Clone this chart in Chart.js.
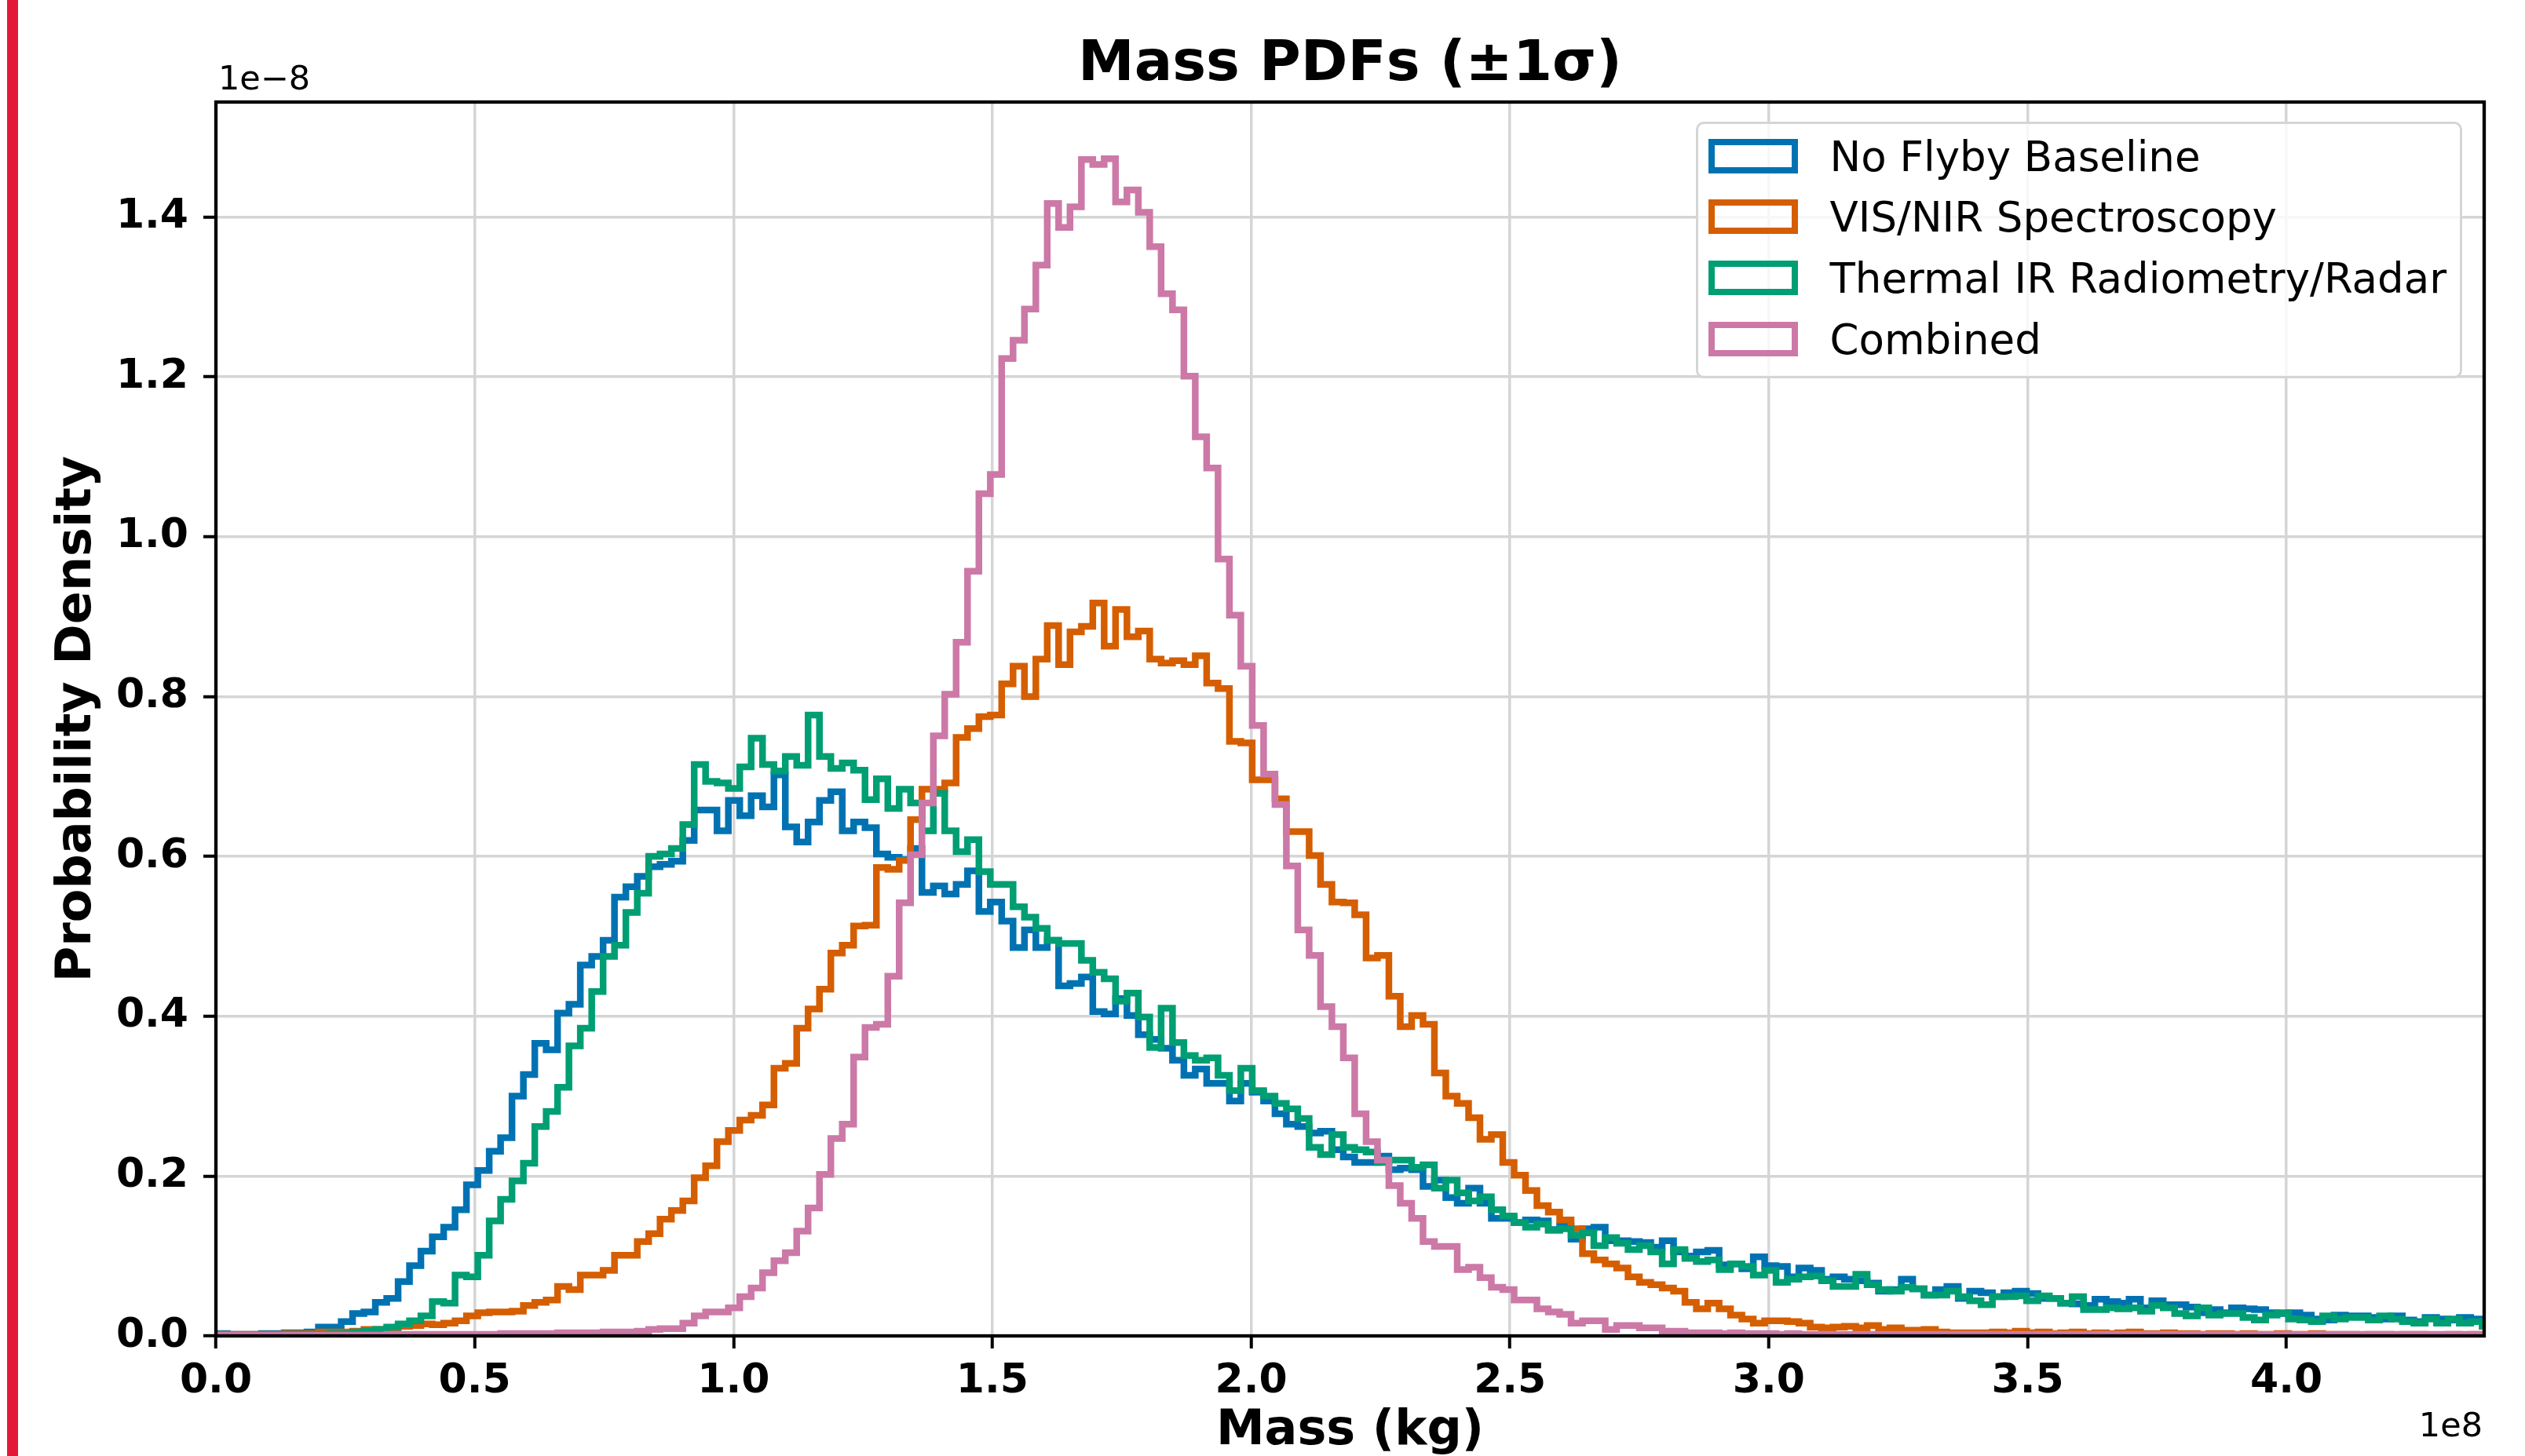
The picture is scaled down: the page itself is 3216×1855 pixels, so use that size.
<!DOCTYPE html>
<html lang="en">
<head>
    <meta charset="UTF-8">
    <title>Mass PDFs</title>
    <script src="https://cdn.jsdelivr.net/npm/chart.js"></script>
    <style>
        html, body { margin: 0; padding: 0; background: #fff; }
        body { width: 3216px; height: 1855px; position: relative; overflow: hidden; font-family: "DejaVu Sans", sans-serif; color: #000; }
        #chart { position: absolute; left: 0; top: 0; }
        .edge-bar { position: absolute; left: 9px; top: 0; width: 14px; height: 1855px; background: #e31837; }
        .title { position: absolute; left: 275px; width: 2889px; top: 77px; transform: translateY(-50%); text-align: center; font-size: 72px; font-weight: bold; line-height: 1; white-space: nowrap; }
        .offset { position: absolute; font-size: 43px; line-height: 1; transform: translateY(-50%); white-space: nowrap; }
        #legend { position: absolute; left: 2160px; top: 155px; width: 976px; height: 327px; box-sizing: border-box; border: 3.5px solid #d5d5d5; border-radius: 10px; background: rgba(255, 255, 255, 0.8); }
        .swatch { position: absolute; left: 12.5px; width: 114px; height: 44px; box-sizing: border-box; border: 8.5px solid; transform: translateY(-50%); }
        .legend-label { position: absolute; left: 167.5px; font-size: 53px; line-height: 1; white-space: nowrap; transform: translateY(-50%); }
    </style>
</head>
<body>
    <canvas id="chart" width="3216" height="1855"></canvas>
    <div class="edge-bar"></div>
    <div class="title">Mass PDFs (±1σ)</div>
    <div class="offset" style="left: 278px; top: 99px;">1e−8</div>
    <div class="offset" style="right: 54px; top: 1815px;">1e8</div>
    <div id="legend"></div>

    <script>
        // histogram bins, x in units of 1e8 kg, density in units of 1e-8
        const BIN_START = 0.0;
        const BIN_WIDTH = 0.022;
        const X_MIN = 0, X_MAX = 4.382;
        const Y_MIN = 0, Y_MAX = 1.544;

        const xTickValues = [0.0, 0.5, 1.0, 1.5, 2.0, 2.5, 3.0, 3.5, 4.0];
        const yTickValues = [0.0, 0.2, 0.4, 0.6, 0.8, 1.0, 1.2, 1.4];

        const seriesLabels = ["No Flyby Baseline", "VIS/NIR Spectroscopy", "Thermal IR Radiometry/Radar", "Combined"];
        const seriesColors = ["#0072B2", "#D55E00", "#009E73", "#CC79A7"];

        const noFlyby = [
            0.003, 0.002, 0.002, 0.002, 0.003, 0.003, 0.004, 0.004, 0.005, 0.011,
            0.011, 0.018, 0.028, 0.030, 0.042, 0.047, 0.068, 0.088, 0.106, 0.124,
            0.136, 0.158, 0.189, 0.207, 0.231, 0.248, 0.300, 0.327, 0.366, 0.358,
            0.404, 0.415, 0.464, 0.475, 0.495, 0.549, 0.562, 0.575, 0.587, 0.590,
            0.594, 0.620, 0.658, 0.658, 0.632, 0.670, 0.651, 0.676, 0.662, 0.702,
            0.637, 0.618, 0.643, 0.670, 0.681, 0.632, 0.643, 0.636, 0.603, 0.599,
            0.596, 0.610, 0.555, 0.563, 0.553, 0.565, 0.582, 0.531, 0.543, 0.519,
            0.486, 0.508, 0.486, 0.495, 0.438, 0.441, 0.449, 0.406, 0.403, 0.422,
            0.401, 0.377, 0.371, 0.360, 0.345, 0.326, 0.334, 0.316, 0.316, 0.294,
            0.316, 0.305, 0.294, 0.278, 0.265, 0.262, 0.254, 0.256, 0.233, 0.224,
            0.217, 0.217, 0.225, 0.208, 0.210, 0.208, 0.187, 0.195, 0.173, 0.166,
            0.185, 0.166, 0.147, 0.147, 0.142, 0.145, 0.144, 0.133, 0.138, 0.121,
            0.134, 0.136, 0.119, 0.119, 0.118, 0.117, 0.111, 0.119, 0.105, 0.100,
            0.105, 0.107, 0.089, 0.090, 0.084, 0.099, 0.088, 0.087, 0.074, 0.085,
            0.082, 0.071, 0.074, 0.071, 0.069, 0.066, 0.056, 0.058, 0.071, 0.059,
            0.051, 0.058, 0.062, 0.047, 0.056, 0.054, 0.049, 0.054, 0.056, 0.053,
            0.047, 0.047, 0.041, 0.040, 0.038, 0.046, 0.043, 0.041, 0.046, 0.035,
            0.044, 0.039, 0.039, 0.036, 0.029, 0.033, 0.029, 0.035, 0.034, 0.033,
            0.029, 0.028, 0.029, 0.026, 0.021, 0.020, 0.026, 0.025, 0.025, 0.023,
            0.021, 0.025, 0.020, 0.018, 0.023, 0.021, 0.020, 0.023, 0.021, 0.021
        ];

        const visNir = [
            0.002, 0.002, 0.002, 0.002, 0.002, 0.002, 0.003, 0.003, 0.003, 0.005,
            0.005, 0.005, 0.006, 0.008, 0.008, 0.009, 0.012, 0.013, 0.015, 0.014,
            0.016, 0.019, 0.025, 0.029, 0.030, 0.030, 0.031, 0.038, 0.042, 0.045,
            0.062, 0.058, 0.076, 0.076, 0.082, 0.101, 0.101, 0.118, 0.128, 0.146,
            0.157, 0.169, 0.198, 0.213, 0.243, 0.257, 0.270, 0.276, 0.289, 0.335,
            0.341, 0.385, 0.409, 0.434, 0.479, 0.489, 0.513, 0.514, 0.586, 0.584,
            0.595, 0.646, 0.684, 0.684, 0.692, 0.749, 0.760, 0.775, 0.777, 0.816,
            0.838, 0.800, 0.847, 0.889, 0.840, 0.881, 0.888, 0.917, 0.863, 0.909,
            0.875, 0.882, 0.847, 0.842, 0.845, 0.840, 0.851, 0.817, 0.810, 0.744,
            0.742, 0.696, 0.696, 0.672, 0.631, 0.631, 0.601, 0.565, 0.543, 0.542,
            0.527, 0.473, 0.476, 0.425, 0.387, 0.401, 0.390, 0.329, 0.300, 0.291,
            0.273, 0.246, 0.252, 0.217, 0.201, 0.182, 0.163, 0.155, 0.145, 0.134,
            0.103, 0.095, 0.090, 0.085, 0.074, 0.067, 0.064, 0.060, 0.056, 0.042,
            0.034, 0.041, 0.034, 0.026, 0.021, 0.016, 0.019, 0.019, 0.018, 0.016,
            0.011, 0.010, 0.011, 0.012, 0.010, 0.013, 0.008, 0.010, 0.007, 0.007,
            0.008, 0.005, 0.004, 0.004, 0.004, 0.004, 0.005, 0.004, 0.006, 0.004,
            0.005, 0.003, 0.004, 0.005, 0.003, 0.004, 0.003, 0.004, 0.005, 0.003,
            0.003, 0.004, 0.003, 0.003, 0.002, 0.003, 0.003, 0.002, 0.003, 0.002,
            0.002, 0.003, 0.002, 0.002, 0.003, 0.002, 0.002, 0.002, 0.001, 0.002,
            0.002, 0.001, 0.002, 0.002, 0.001, 0.001, 0.002, 0.001, 0.002, 0.002
        ];

        const thermalIr = [
            0.001, 0.001, 0.001, 0.001, 0.001, 0.001, 0.002, 0.002, 0.002, 0.002,
            0.003, 0.003, 0.005, 0.006, 0.008, 0.011, 0.015, 0.019, 0.025, 0.043,
            0.041, 0.076, 0.074, 0.101, 0.144, 0.171, 0.194, 0.216, 0.262, 0.281,
            0.311, 0.363, 0.385, 0.431, 0.475, 0.489, 0.530, 0.554, 0.600, 0.603,
            0.610, 0.640, 0.715, 0.694, 0.692, 0.685, 0.712, 0.748, 0.715, 0.707,
            0.725, 0.714, 0.777, 0.725, 0.710, 0.717, 0.708, 0.671, 0.697, 0.660,
            0.684, 0.667, 0.632, 0.679, 0.632, 0.606, 0.621, 0.581, 0.565, 0.565,
            0.537, 0.524, 0.510, 0.495, 0.491, 0.491, 0.470, 0.455, 0.447, 0.419,
            0.429, 0.399, 0.361, 0.410, 0.367, 0.351, 0.345, 0.348, 0.326, 0.307,
            0.335, 0.307, 0.300, 0.291, 0.284, 0.272, 0.236, 0.227, 0.252, 0.236,
            0.233, 0.230, 0.217, 0.220, 0.220, 0.211, 0.214, 0.185, 0.195, 0.179,
            0.169, 0.174, 0.158, 0.150, 0.142, 0.136, 0.140, 0.132, 0.134, 0.126,
            0.129, 0.113, 0.123, 0.116, 0.108, 0.113, 0.105, 0.090, 0.108, 0.097,
            0.093, 0.095, 0.083, 0.090, 0.087, 0.076, 0.082, 0.067, 0.071, 0.074,
            0.075, 0.069, 0.062, 0.062, 0.077, 0.064, 0.058, 0.056, 0.061, 0.059,
            0.051, 0.051, 0.056, 0.049, 0.044, 0.039, 0.049, 0.049, 0.050, 0.044,
            0.050, 0.047, 0.041, 0.049, 0.033, 0.033, 0.035, 0.034, 0.035, 0.031,
            0.038, 0.035, 0.028, 0.025, 0.035, 0.026, 0.028, 0.028, 0.023, 0.020,
            0.026, 0.029, 0.021, 0.020, 0.018, 0.025, 0.021, 0.023, 0.023, 0.020,
            0.025, 0.021, 0.018, 0.016, 0.021, 0.016, 0.021, 0.016, 0.018, 0.012
        ];

        const combined = [
            0.001, 0.001, 0.001, 0.001, 0.001, 0.001, 0.001, 0.001, 0.001, 0.001,
            0.001, 0.001, 0.001, 0.001, 0.001, 0.002, 0.002, 0.002, 0.002, 0.002,
            0.002, 0.002, 0.002, 0.002, 0.002, 0.003, 0.003, 0.003, 0.003, 0.003,
            0.004, 0.004, 0.004, 0.004, 0.005, 0.005, 0.005, 0.006, 0.008, 0.009,
            0.009, 0.016, 0.025, 0.030, 0.030, 0.035, 0.049, 0.060, 0.079, 0.094,
            0.104, 0.131, 0.160, 0.202, 0.247, 0.265, 0.349, 0.386, 0.390, 0.450,
            0.542, 0.602, 0.667, 0.751, 0.803, 0.868, 0.957, 1.054, 1.078, 1.223,
            1.246, 1.285, 1.340, 1.417, 1.387, 1.413, 1.472, 1.466, 1.473, 1.419,
            1.434, 1.406, 1.363, 1.304, 1.284, 1.201, 1.125, 1.086, 0.972, 0.902,
            0.838, 0.764, 0.703, 0.665, 0.588, 0.508, 0.476, 0.412, 0.387, 0.348,
            0.278, 0.243, 0.220, 0.188, 0.166, 0.147, 0.118, 0.112, 0.112, 0.083,
            0.086, 0.073, 0.061, 0.058, 0.045, 0.045, 0.034, 0.030, 0.027, 0.016,
            0.019, 0.019, 0.008, 0.013, 0.013, 0.010, 0.010, 0.006, 0.006, 0.004,
            0.004, 0.004, 0.003, 0.004, 0.003, 0.003, 0.003, 0.002, 0.003, 0.002,
            0.002, 0.002, 0.002, 0.002, 0.002, 0.002, 0.002, 0.002, 0.002, 0.002,
            0.002, 0.002, 0.002, 0.002, 0.002, 0.002, 0.002, 0.002, 0.002, 0.002,
            0.002, 0.002, 0.002, 0.002, 0.002, 0.002, 0.002, 0.002, 0.002, 0.002,
            0.002, 0.002, 0.002, 0.002, 0.002, 0.002, 0.002, 0.002, 0.002, 0.002,
            0.002, 0.002, 0.002, 0.002, 0.002, 0.002, 0.002, 0.002, 0.002, 0.002,
            0.002, 0.002, 0.002, 0.002, 0.002, 0.002, 0.002, 0.002, 0.002, 0.002
        ];

        const seriesValues = [noFlyby, visNir, thermalIr, combined];

        // outline of a step histogram: up from zero, across each bin, to the last edge
        function stepPoints(values) {
            const pts = [{ x: BIN_START, y: 0 }];
            values.forEach((v, i) => pts.push({ x: BIN_START + i * BIN_WIDTH, y: v }));
            pts.push({ x: BIN_START + values.length * BIN_WIDTH, y: values[values.length - 1] });
            pts.push({ x: BIN_START + values.length * BIN_WIDTH, y: 0 });
            return pts;
        }

        // black box around the axes, like matplotlib spines
        const axesFrame = {
            id: 'axesFrame',
            afterDatasetsDraw(chart) {
                const { ctx, chartArea: a } = chart;
                ctx.save();
                ctx.strokeStyle = '#000';
                ctx.lineWidth = 4.3;
                ctx.strokeRect(a.left, a.top, a.right - a.left, a.bottom - a.top);
                ctx.restore();
            }
        };

        Chart.defaults.font.family = '"DejaVu Sans", sans-serif';
        Chart.defaults.color = '#000';

        const chart = new Chart(document.getElementById('chart').getContext('2d'), {
            type: 'line',
            data: {
                datasets: seriesValues.map((values, i) => ({
                    label: seriesLabels[i],
                    data: stepPoints(values),
                    borderColor: seriesColors[i],
                    backgroundColor: seriesColors[i],
                    borderWidth: 8.5,
                    // 'before': hold the previous value up to the next edge, then step
                    stepped: 'before',
                    pointRadius: 0,
                    fill: false,
                    clip: 0,
                    order: seriesValues.length - 1 - i
                }))
            },
            options: {
                responsive: false,
                devicePixelRatio: 1,
                animation: false,
                layout: { padding: { top: 130, right: 52, bottom: 0, left: 0 } },
                plugins: {
                    legend: { display: false },
                    tooltip: { enabled: false }
                },
                scales: {
                    x: {
                        type: 'linear',
                        min: X_MIN,
                        max: X_MAX,
                        afterBuildTicks: (s) => { s.ticks = xTickValues.map(v => ({ value: v })); },
                        afterFit: (s) => { s.height = 153; },
                        ticks: {
                            font: { size: 52, weight: 'bold' },
                            color: '#000',
                            padding: 11,
                            maxRotation: 0,
                            autoSkip: false,
                            callback: (v) => Number(v).toFixed(1)
                        },
                        grid: { color: '#d5d5d5', lineWidth: 3.5, tickColor: '#000', tickWidth: 4, tickLength: 16 },
                        border: { display: false },
                        title: {
                            display: true,
                            text: 'Mass (kg)',
                            color: '#000',
                            font: { size: 62, weight: 'bold', lineHeight: 1 },
                            padding: { top: 0, bottom: 0 }
                        }
                    },
                    y: {
                        type: 'linear',
                        min: Y_MIN,
                        max: Y_MAX,
                        afterBuildTicks: (s) => { s.ticks = yTickValues.map(v => ({ value: v })); },
                        afterFit: (s) => { s.width = 275; },
                        ticks: {
                            font: { size: 52, weight: 'bold' },
                            color: '#000',
                            padding: 19,
                            callback: (v) => Number(v).toFixed(1)
                        },
                        grid: { color: '#d5d5d5', lineWidth: 3.5, tickColor: '#000', tickWidth: 4, tickLength: 16 },
                        border: { display: false },
                        title: {
                            display: true,
                            text: 'Probability Density',
                            color: '#000',
                            font: { size: 62, weight: 'bold', lineHeight: 1 },
                            padding: { top: 68, bottom: 0 }
                        }
                    }
                }
            },
            plugins: [axesFrame]
        });

        // legend in the upper right corner, built from the datasets
        const legend = document.getElementById('legend');
        chart.data.datasets.forEach((ds, i) => {
            const y = 40.5 + i * 77.7;
            const sw = document.createElement('div');
            sw.className = 'swatch';
            sw.style.top = y + 'px';
            sw.style.borderColor = ds.borderColor;
            const lb = document.createElement('div');
            lb.className = 'legend-label';
            lb.style.top = y + 'px';
            lb.textContent = ds.label;
            legend.appendChild(sw);
            legend.appendChild(lb);
        });
    </script>
</body>
</html>
